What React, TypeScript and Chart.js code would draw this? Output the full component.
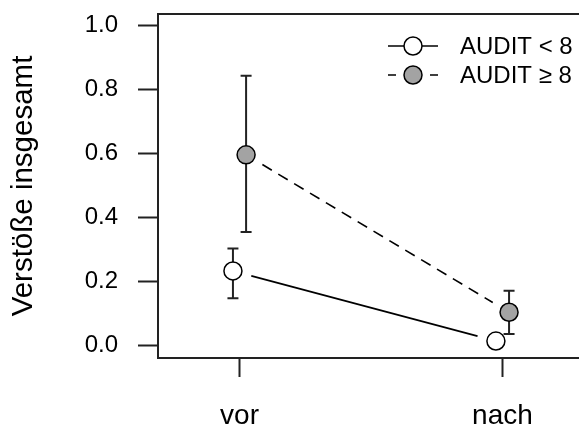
import React, { useEffect, useRef } from 'react';
import { Chart, registerables } from 'chart.js';

Chart.register(...registerables);

const CATEGORIES = ['vor', 'nach'];
const CATEGORY_X = [1, 2];
const SERIES_NAMES = ['AUDIT < 8', 'AUDIT ≥ 8'];
const LOW_MEAN = [0.232, 0.013];
const LOW_LOWER = [0.147, 0.006];
const LOW_UPPER = [0.302, 0.02];
const HIGH_MEAN = [0.595, 0.103];
const HIGH_LOWER = [0.354, 0.035];
const HIGH_UPPER = [0.842, 0.17];
const Y_TICKS = [0, 0.2, 0.4, 0.6, 0.8, 1.0];
const Y_TICK_LABELS = ['0.0', '0.2', '0.4', '0.6', '0.8', '1.0'];
const Y_TITLE = 'Verstöße insgesamt';

const FONT = '"Liberation Sans", Arial, Helvetica, sans-serif';
const DODGE = 0.025;
const INK = '#222';

const rPlugin = {
  id: 'rStyle',
  beforeDatasetsDraw(chart: any) {
    const ctx = chart.ctx;
    const ys = chart.scales.y;
    chart.data.datasets.forEach((ds: any, i: number) => {
      const pts = chart.getDatasetMeta(i).data;
      ctx.save();
      ctx.strokeStyle = '#000';
      ctx.lineWidth = 1.6;
      ctx.setLineDash(ds.connectDash);
      for (let k = 0; k < pts.length - 1; k++) {
        const a = pts[k];
        const b = pts[k + 1];
        const dx = b.x - a.x;
        const dy = b.y - a.y;
        const len = Math.hypot(dx, dy);
        const g = 19;
        if (len > 2 * g) {
          ctx.beginPath();
          ctx.moveTo(a.x + (dx / len) * g, a.y + (dy / len) * g);
          ctx.lineTo(b.x - (dx / len) * g, b.y - (dy / len) * g);
          ctx.stroke();
        }
      }
      ctx.setLineDash([]);
      ctx.strokeStyle = INK;
      ctx.lineWidth = 2;
      ds.errLower.forEach((lo: number, k: number) => {
        const hi = ds.errUpper[k];
        const x = pts[k].x;
        const yl = ys.getPixelForValue(lo);
        const yh = ys.getPixelForValue(hi);
        ctx.beginPath();
        ctx.moveTo(x, yl);
        ctx.lineTo(x, yh);
        ctx.moveTo(x - 5.5, yl);
        ctx.lineTo(x + 5.5, yl);
        ctx.moveTo(x - 5.5, yh);
        ctx.lineTo(x + 5.5, yh);
        ctx.stroke();
      });
      ctx.restore();
    });
  },
  afterDraw(chart: any) {
    const ctx = chart.ctx;
    const ca = chart.chartArea;
    ctx.save();
    ctx.strokeStyle = INK;
    ctx.lineWidth = 2;
    ctx.strokeRect(ca.left, ca.top, ca.right - ca.left, ca.bottom - ca.top);
    // legend
    const x0 = 388;
    const x1 = 438;
    const xc = (x0 + x1) / 2;
    const rows = [46, 75];
    chart.data.datasets.forEach((ds: any, i: number) => {
      const y = rows[i];
      ctx.strokeStyle = '#000';
      ctx.lineWidth = 1.6;
      ctx.setLineDash(ds.legendDash);
      ctx.beginPath();
      ctx.moveTo(x0, y);
      ctx.lineTo(x1, y);
      ctx.stroke();
      ctx.setLineDash([]);
      ctx.beginPath();
      ctx.arc(xc, y, 9, 0, Math.PI * 2);
      ctx.fillStyle = ds.pointBackgroundColor;
      ctx.fill();
      ctx.lineWidth = 1.5;
      ctx.stroke();
      ctx.fillStyle = '#000';
      ctx.font = `24px ${FONT}`;
      ctx.textAlign = 'left';
      ctx.textBaseline = 'middle';
      ctx.fillText(ds.label, 460, y + 1);
    });
    ctx.restore();
  },
};

export default function App() {
  const ref = useRef<HTMLCanvasElement | null>(null);

  useEffect(() => {
    if (!ref.current) return;
    const mk = (means: number[]) => means.map((m, k) => ({ x: CATEGORY_X[k], y: m }));
    const chart = new Chart(ref.current, {
      type: 'scatter',
      data: {
        datasets: [
          {
            label: SERIES_NAMES[0],
            data: mk(LOW_MEAN).map((p) => ({ x: p.x - DODGE, y: p.y })),
            pointRadius: 9,
            pointBackgroundColor: '#ffffff',
            pointBorderColor: '#000',
            pointBorderWidth: 1.5,
            showLine: false,
            errLower: LOW_LOWER,
            errUpper: LOW_UPPER,
            connectDash: [],
            legendDash: [],
          } as any,
          {
            label: SERIES_NAMES[1],
            data: mk(HIGH_MEAN).map((p) => ({ x: p.x + DODGE, y: p.y })),
            pointRadius: 9,
            pointBackgroundColor: '#a3a3a3',
            pointBorderColor: '#000',
            pointBorderWidth: 1.5,
            showLine: false,
            errLower: HIGH_LOWER,
            errUpper: HIGH_UPPER,
            connectDash: [11, 7.5],
            legendDash: [8, 34],
          } as any,
        ],
      },
      options: {
        animation: false,
        responsive: false,
        events: [],
        layout: { padding: { left: 0, top: 14, right: 16, bottom: 0 } },
        plugins: { legend: { display: false }, tooltip: { enabled: false } },
        scales: {
          x: {
            type: 'linear',
            min: 0.69,
            max: 2.31,
            afterBuildTicks: (s: any) => {
              s.ticks = CATEGORY_X.map((v) => ({ value: v }));
            },
            afterFit: (s: any) => {
              s.height = 72;
              s.paddingLeft = 0;
              s.paddingRight = 0;
              s.paddingTop = 0;
              s.paddingBottom = 0;
            },
            border: { display: false },
            grid: { drawOnChartArea: false, drawTicks: true, tickLength: 19, tickWidth: 2, tickColor: INK },
            ticks: {
              autoSkip: false,
              maxRotation: 0,
              padding: 22,
              color: '#000',
              font: { family: FONT, size: 28 },
              callback: (v: any) => CATEGORIES[CATEGORY_X.indexOf(Number(v))] ?? '',
            },
          },
          y: {
            min: -0.04,
            max: 1.035,
            afterBuildTicks: (s: any) => {
              s.ticks = Y_TICKS.map((v) => ({ value: v }));
            },
            afterFit: (s: any) => {
              s.width = 158;
              s.paddingLeft = 0;
              s.paddingRight = 0;
              s.paddingTop = 0;
              s.paddingBottom = 0;
            },
            border: { display: false },
            grid: { drawOnChartArea: false, drawTicks: true, tickLength: 20, tickWidth: 2, tickColor: INK },
            title: {
              display: true,
              text: Y_TITLE,
              color: '#000',
              font: { family: FONT, size: 29.5 },
              padding: { top: 6, bottom: 0 },
            },
            ticks: {
              autoSkip: false,
              padding: 20,
              color: '#000',
              font: { family: FONT, size: 24 },
              callback: (v: any) => Y_TICK_LABELS[Y_TICKS.indexOf(Number(v))] ?? '',
            },
          },
        },
      } as any,
      plugins: [rPlugin],
    });
    return () => chart.destroy();
  }, []);

  return (
    <div
      style={{
        position: 'fixed',
        left: 0,
        top: 0,
        width: 579,
        height: 430,
        overflow: 'hidden',
        background: '#fff',
      }}
    >
      <canvas ref={ref} width={600} height={430} style={{ display: 'block' }} />
    </div>
  );
}
